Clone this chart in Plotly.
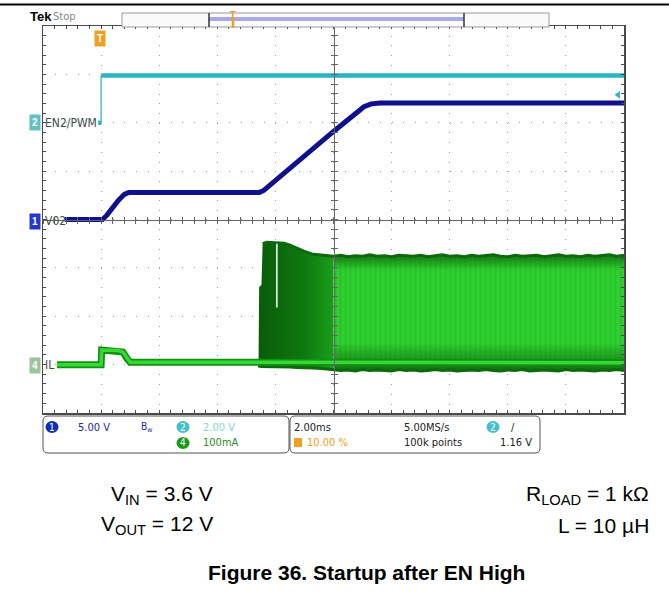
import plotly.graph_objects as go

# scope settings
CH1_SCALE = 5.0      # V/div   (VOUT)
CH2_SCALE = 2.0      # V/div   (EN)
CH4_SCALE = 100.0    # mA/div  (IL)
CH1_POS = 0.0        # ground marker position, divisions
CH2_POS = 2.0
CH4_POS = -3.0
TRIG_LEVEL = 1.16    # V on ch2
T_RANGE = [-2, 18]   # ms, 2 ms/div, trigger at 10 %

# EN2/PWM (ch2), V
en_t = [-0.1, 0.0, 0.0, 18.0]
en_v = [0.0, 0.0, 1.95, 1.95]

# VOUT (ch1), V
vout_t = [-1.25, 0.05, 0.2, 0.4, 0.6, 0.8, 0.95, 5.45, 5.6, 8.0, 8.8, 9.05, 9.3, 9.6, 18.0]
vout_v = [0.0, 0.0, 0.45, 1.25, 2.0, 2.6, 2.8, 2.8, 3.0, 9.1, 11.0, 11.65, 11.95, 12.05, 12.05]

# IL (ch4) before the converter starts switching, mA
il_t = [-1.52, 0.0, 0.02, 0.6, 0.75, 0.9, 1.0, 18.0]
il_ma = [0, 0, 30, 29, 26, 12, 5, 4]

# IL switching envelope, soft-start part, mA
sw_early_t = [5.42, 5.44, 5.52, 5.56, 5.7, 6.0, 6.3, 6.5, 6.75, 7.0, 7.3, 7.6, 8.0]
sw_early_top = [5, 160, 165, 250, 253, 252, 251, 247, 240, 234, 228, 226, 224]
sw_early_bot = [-2, -3, -4, -4, -4, -5, -5, -5, -6, -6, -7, -8, -10]

# IL switching envelope, steady part, mA
sw_t = [8.0, 8.25, 8.5, 8.75, 9.0, 9.25, 9.5, 9.75, 10.0, 10.25, 10.5,
        10.75, 11.0, 11.25, 11.5, 11.75, 12.0, 12.25, 12.5, 12.75, 13.0,
        13.25, 13.5, 13.75, 14.0, 14.25, 14.5, 14.75, 15.0, 15.25, 15.5,
        15.75, 16.0, 16.25, 16.5, 16.75, 17.0, 17.25, 17.5, 17.75, 18.0]
sw_top = [224, 226, 223, 225, 224, 227, 224, 225, 223, 226, 225,
          224, 226, 223, 225, 227, 224, 225, 223, 226, 224,
          225, 227, 224, 223, 226, 224, 225, 226, 223, 225,
          227, 224, 225, 223, 226, 224, 225, 227, 224, 226]
sw_bot = [-10, -12, -11, -13, -10, -12, -11, -12, -13, -10, -12,
          -11, -13, -12, -10, -12, -11, -13, -12, -11, -12,
          -10, -12, -13, -11, -12, -10, -13, -12, -11, -12,
          -13, -10, -12, -11, -12, -13, -11, -12, -10, -12]

# white gap in the first burst
gap_t = [6.05, 6.05]
gap_ma = [250, 118]

CYAN = '#29b6c1'
NAVY = '#10108c'
DKGREEN = '#0c6a0c'
GREEN = '#2fcf2f'
GRID = '#a0a0a0'
FRAME = '#4a4a4a'
NARROW = 'Liberation Sans Narrow, DejaVu Sans Condensed, Liberation Sans, sans-serif'
SANS = 'Liberation Sans, Arial, sans-serif'

# plot area in page pixels
L, R, T, B = 43, 624, 26, 413


def fx(px):
    return (px - L) / (R - L)


def fy(py):
    return (B - py) / (B - T)


def ch1(v):
    return [CH1_POS + a / CH1_SCALE for a in v]


def ch2(v):
    return [CH2_POS + a / CH2_SCALE for a in v]


def ch4(v):
    return [CH4_POS + a / CH4_SCALE for a in v]


def line(x, y, color, width, **kw):
    return go.Scatter(x=x, y=y, mode='lines', line=dict(color=color, width=width),
                      hoverinfo='skip', showlegend=False, **kw)


def band(x, lo, hi, c0, c1, start, stop):
    # polygon between two envelopes with a vertical colour gradient
    return go.Scatter(
        x=x + x[::-1], y=lo + hi[::-1], mode='lines', line=dict(width=0), fill='toself',
        fillgradient=dict(type='vertical', start=start, stop=stop,
                          colorscale=[[0, c0], [1, c1]]),
        hoverinfo='skip', showlegend=False)


fig = go.Figure()

# IL, soft-start burst
fig.add_trace(go.Scatter(
    x=sw_early_t + sw_early_t[::-1],
    y=ch4(sw_early_top) + ch4(sw_early_bot)[::-1],
    mode='lines', line=dict(width=0), fill='toself',
    fillgradient=dict(type='horizontal', start=5.42, stop=8.0,
                      colorscale=[[0, '#0a5c0a'], [0.6, '#0f780f'], [1, '#1a9e1a']]),
    hoverinfo='skip', showlegend=False))

# IL, steady switching
fig.add_trace(go.Scatter(
    x=sw_t + sw_t[::-1],
    y=ch4(sw_top) + ch4(sw_bot)[::-1],
    mode='lines', line=dict(width=0), fill='toself', fillcolor=GREEN,
    fillpattern=dict(shape='|', bgcolor=GREEN, fgcolor='#23b523', size=5, solidity=0.35),
    hoverinfo='skip', showlegend=False))

# darker bands at the valleys and at the peaks
fig.add_trace(band(sw_t, ch4(sw_bot), ch4([b + 55 for b in sw_bot]),
                   'rgba(12,100,12,0.85)', 'rgba(12,100,12,0)',
                   ch4([-12])[0], ch4([45])[0]))
fig.add_trace(band(sw_t, ch4([a - 30 for a in sw_top]), ch4(sw_top),
                   'rgba(12,100,12,0)', 'rgba(12,100,12,0.8)',
                   ch4([195])[0], ch4([226])[0]))

fig.add_trace(line(sw_early_t[3:] + sw_t, ch4(sw_early_top[3:] + sw_top), DKGREEN, 3))
fig.add_trace(line(sw_early_t + sw_t, ch4(sw_early_bot + sw_bot), DKGREEN, 3))
fig.add_trace(line(gap_t, ch4(gap_ma), 'white', 1.5))

# IL trace
fig.add_trace(line(il_t, ch4(il_ma), '#129012', 7))
fig.add_trace(line(il_t, ch4(il_ma), '#35d835', 3.5))

# VOUT
fig.add_trace(line(vout_t, ch1(vout_v), NAVY, 5))

# EN: thin edge, thick levels
fig.add_trace(line(en_t[1:3], ch2(en_v[1:3]), CYAN, 1.2))
fig.add_trace(line(en_t[2:], ch2(en_v[2:]), CYAN, 4.5))
fig.add_trace(line(en_t[:2], ch2(en_v[:2]), CYAN, 4.5))

# ch2 trigger level marker
fig.add_trace(go.Scatter(x=[17.8], y=ch2([TRIG_LEVEL]), mode='markers',
                         marker=dict(symbol='triangle-left', size=7, color=CYAN),
                         cliponaxis=False, hoverinfo='skip', showlegend=False))

# dummy traces so the centre-line axes get drawn
for xa, ya in [('x2', 'y'), ('x3', 'y'), ('x', 'y2'), ('x', 'y3')]:
    fig.add_trace(go.Scatter(x=[None], y=[None], xaxis=xa, yaxis=ya,
                             hoverinfo='skip', showlegend=False))

border = dict(showline=True, linecolor=FRAME, linewidth=1.5, mirror='ticks',
              ticks='inside', ticklen=3, tickcolor=FRAME, showticklabels=False,
              zeroline=False, showgrid=True, gridcolor=GRID, gridwidth=1,
              fixedrange=True)
centre = dict(showline=True, linecolor='#666', linewidth=1, showgrid=False,
              zeroline=False, showticklabels=False, ticklen=3, tickcolor='#666',
              anchor='free', position=0.5, fixedrange=True)

fig.update_layout(
    width=669, height=599, autosize=False,
    margin=dict(l=L, r=669 - R, t=T, b=599 - B),
    paper_bgcolor='white', plot_bgcolor='white',
    hovermode=False,
    xaxis=dict(range=T_RANGE, tick0=-2, dtick=2, griddash='1px,8.68px',
               minor=dict(dtick=0.4, ticks='inside', ticklen=3, tickcolor=FRAME), **border),
    yaxis=dict(range=[-4, 4], tick0=-4, dtick=1, griddash='1px,10.62px',
               minor=dict(dtick=0.2, ticks='inside', ticklen=3, tickcolor=FRAME), **border),
    xaxis2=dict(overlaying='x', range=T_RANGE, tick0=-2, dtick=0.4, ticks='outside', **centre),
    xaxis3=dict(overlaying='x', range=T_RANGE, tick0=-2, dtick=0.4, ticks='inside', **centre),
    yaxis2=dict(overlaying='y', range=[-4, 4], tick0=-4, dtick=0.2, ticks='outside', **centre),
    yaxis3=dict(overlaying='y', range=[-4, 4], tick0=-4, dtick=0.2, ticks='inside', **centre),
)


def rect(x0, y0, x1, y1, **kw):
    fig.add_shape(type='rect', xref='paper', yref='paper',
                  x0=fx(x0), x1=fx(x1), y0=fy(y0), y1=fy(y1), **kw)


def seg(x0, y0, x1, y1, color, width):
    fig.add_shape(type='line', xref='paper', yref='paper',
                  x0=fx(x0), x1=fx(x1), y0=fy(y0), y1=fy(y1),
                  line=dict(color=color, width=width))


def rbox(x0, y0, x1, y1, r=5):
    rx, ry = r / (R - L), r / (B - T)
    a, b, c, d = fx(x0), fx(x1), fy(y0), fy(y1)
    path = (f'M{a + rx},{c} L{b - rx},{c} Q{b},{c} {b},{c - ry} L{b},{d + ry} '
            f'Q{b},{d} {b - rx},{d} L{a + rx},{d} Q{a},{d} {a},{d + ry} '
            f'L{a},{c - ry} Q{a},{c} {a + rx},{c} Z')
    fig.add_shape(type='path', xref='paper', yref='paper', path=path,
                  line=dict(color='#555', width=1), fillcolor='white')


def text(x, y, s, size=11, color='#222', family=NARROW, anchor='left', **kw):
    fig.add_annotation(xref='paper', yref='paper', x=fx(x), y=fy(y), text=s,
                       showarrow=False, xanchor=anchor, yanchor='middle',
                       font=dict(size=size, color=color, family=family), **kw)


def badge(x, y, s, bg, w=13, h=12):
    fig.add_shape(type='circle', xref='paper', yref='paper',
                  x0=fx(x - w / 2), x1=fx(x + w / 2), y0=fy(y - h / 2), y1=fy(y + h / 2),
                  fillcolor=bg, line=dict(width=0))
    text(x, y, s, size=10, color='white', anchor='center')


# page header line and record view
seg(0, 4.5, 669, 4.5, 'black', 2)
rect(122, 13, 549, 27, line=dict(color='#9a9a9a', width=1), fillcolor='#fafafa')
rect(209, 17, 464, 21, line=dict(width=0), fillcolor='#a9a9e6')
seg(209, 13, 209, 27, '#333', 1.5)
seg(464, 13, 464, 27, '#333', 1.5)
seg(233, 17, 233, 28, '#f0a020', 2.5)
text(233, 15, '<b>T</b>', size=9, color='#f0a020', anchor='center')
text(28, 17, '<b>Tek</b>', size=13, color='black', family=SANS)
text(51, 17, 'Stop', size=11, color='#888')

# trigger position marker
text(100, 38, '<b>T</b>', size=10, color='white', anchor='center', family=SANS,
     bgcolor='#f0a020', borderpad=2)

# channel ground markers and labels
text(35, 123, '<b>2</b>', size=10, color='white', anchor='center', family=SANS,
     bgcolor='#62c0c6', borderpad=2)
text(43, 123, 'EN2/PWM', size=12, color='#3d4b4b')
text(35, 221, '<b>1</b>', size=10, color='white', anchor='center', family=SANS,
     bgcolor='#2438d0', borderpad=2)
text(43, 221, 'V02', size=12, color='#3d4b4b')
text(35, 365, '<b>4</b>', size=10, color='white', anchor='center', family=SANS,
     bgcolor='#9cc49c', borderpad=2)
text(43, 365, 'IL', size=12, color='#3d4b4b')

# status bar
rbox(43, 416, 289, 453)
rbox(290, 416, 540, 453)
badge(52, 427, '1', '#1030b0')
text(76, 427, '5.00 V', color='#1a2a90')
text(139, 427, 'B<sub>w</sub>', size=10, color='#1a2a90')
badge(183, 427, '2', '#45c0c8')
text(201, 427, '2.00 V', color='#86d3da')
badge(183, 443, '4', '#1a9a1a')
text(201, 443, '100mA', color='#2a8a2a')
text(292, 427, '2.00ms')
text(402, 427, '5.00MS/s')
badge(493, 427, '2', '#45c0c8')
text(509, 427, '/')
rect(294, 438, 302, 447, line=dict(width=0), fillcolor='#f0a020')
text(305, 443, '10.00 %', color='#f0a020')
text(402, 443, '100k points')
text(498, 443, '1.16 V')

# test conditions and caption
text(215, 495, 'V<sub>IN</sub> = 3.6 V', size=21, color='black', family=SANS, anchor='right')
text(215, 525, 'V<sub>OUT</sub> = 12 V', size=21, color='black', family=SANS, anchor='right')
text(651, 495, 'R<sub>LOAD</sub> = 1 kΩ', size=21, color='black', family=SANS, anchor='right')
text(651, 525, 'L = 10 µH', size=21, color='black', family=SANS, anchor='right')
text(366, 572, '<b>Figure 36. Startup after EN High</b>', size=21, color='black',
     family=SANS, anchor='center')

# the page body has a default margin; remove it so the figure fills the window
fig.write_html('out.html', config={'displayModeBar': False, 'staticPlot': True},
               post_script="document.body.style.margin='0';")
